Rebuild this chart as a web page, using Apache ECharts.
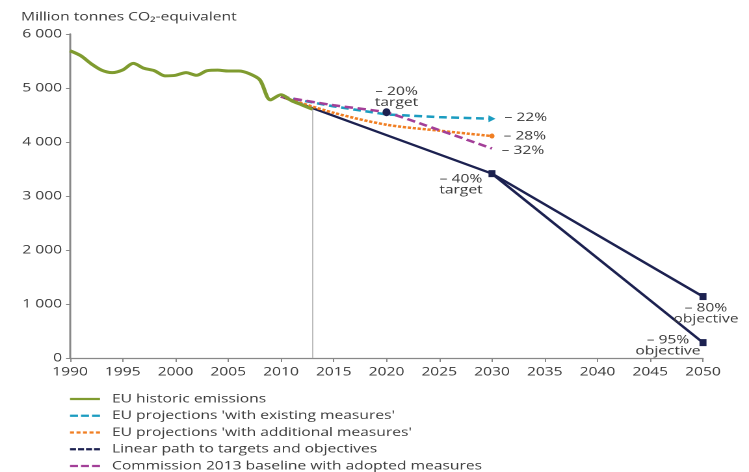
<!DOCTYPE html>
<html>
<head>
<meta charset="utf-8">
<script src="https://cdn.jsdelivr.net/npm/echarts@6/dist/echarts.min.js"></script>
<style>
html,body{margin:0;padding:0;background:#fff;overflow:hidden;width:749px;height:472px}
#c{width:576px;height:472px;transform:scaleX(1.3003);transform-origin:0 0}
</style>
</head>
<body>
<div id="c"></div>
<script>
// ---- data ----
const histYears = [1990,1991,1992,1993,1994,1995,1996,1997,1998,1999,2000,2001,2002,2003,2004,2005,2006,2007,2008,2009,2010,2011,2012,2013];
const histValues = [5690,5600,5450,5330,5285,5335,5455,5365,5320,5225,5235,5285,5235,5320,5330,5315,5315,5265,5150,4780,4875,4765,4685,4605];
const projYears = [2010,2015,2020,2025,2030];
const wemValues = [4840,4660,4510,4460,4430];
const wamValues = [4840,4540,4320,4210,4110];
const comValues = [4840,4680,4545,4220,3880];
const pathYears = [2010,2030,2050];
const path80Values = [4840,3414,1138];
const path95Years = [2030,2050];
const path95Values = [3414,285];
const cutoffYear = 2013;
const markerYears = [2020,2030,2050,2050];
const markerValues = [4552,3414,1138,285];
const markerTexts = ['– 20%\ntarget','– 40%\ntarget','– 80%\nobjective','– 95%\nobjective'];
const endTexts = ['– 22%','– 28%','– 32%'];
const xTicks = {min:1990,max:2050,step:5};
const yTicks = {min:0,max:6000,step:1000};
const names = ['EU historic emissions',"EU projections 'with existing measures'","EU projections 'with additional measures'",'Linear path to targets and objectives','Commission 2013 baseline with adopted measures'];

// ---- styling ----
const SX = 1.3003; // horizontal stretch applied to the whole chart via CSS
const FONT = "'Open Sans', 'Noto Sans', sans-serif";
const FS = 12;
const C = {green:'#7f9b2f', cyan:'#1b9cc0', orange:'#f07e22', navy:'#1c2150', magenta:'#a33f98', text:'#3a3a3a', axis:'#888'};
const pair = (xs, ys) => xs.map((x,i)=>[x, ys[i]]);
const fmt = v => String(v).replace(/\B(?=(\d{3})+(?!\d))/g, ' ');
const hx = v => v / SX;

const markerSymbols = ['circle','rect','rect','rect'];
const markerSizes = [[hx(8),8],[hx(7),7],[hx(7),7],[hx(7),7]];
const markerLabelOffsets = [[hx(10),-15],[hx(-31),11],[hx(3),17],[hx(-35),3]];
const endLabelOffsets = [[0,-1],[0,0],[0,2]];
const legendIcons = [
  'path://M0,0h30v3h-30z',
  'path://M0,0h8v3h-8zM11,0h8v3h-8zM22,0h8v3h-8z',
  'path://M0,0h4v3h-4zM6.5,0h4v3h-4zM13,0h4v3h-4zM19.5,0h4v3h-4zM26,0h4v3h-4z',
  'path://M0,0h6v3h-6zM8,0h6v3h-6zM16,0h6v3h-6zM24,0h6v3h-6z',
  'path://M0,0h8v3h-8zM11,0h8v3h-8zM22,0h8v3h-8z'
];

function endLabel(text, off){
  return {show:true, position:'right', formatter:text, color:C.text, fontSize:FS, fontFamily:FONT, offset:off, distance:hx(9)};
}

const chart = echarts.init(document.getElementById('c'), null, {renderer:'canvas', devicePixelRatio:2});
chart.setOption({
  animation:false,
  textStyle:{fontFamily:FONT},
  title:{text:'Million tonnes CO₂-equivalent', left:hx(21), top:11, padding:0, textStyle:{fontSize:FS, fontWeight:'normal', color:C.text, fontFamily:FONT}},
  grid:{left:hx(70), right:hx(46), top:34, bottom:114, containLabel:false},
  xAxis:{type:'value', min:xTicks.min, max:xTicks.max, interval:xTicks.step,
    axisLine:{lineStyle:{color:C.axis, width:1.2}}, axisTick:{show:true, length:4, lineStyle:{color:C.axis}},
    axisLabel:{color:C.text, fontSize:FS, fontFamily:FONT, margin:8, formatter:v=>String(v)}, splitLine:{show:false}},
  yAxis:{type:'value', min:yTicks.min, max:yTicks.max, interval:yTicks.step,
    axisLine:{show:true, lineStyle:{color:C.axis, width:1.5}}, axisTick:{show:true, length:hx(4), lineStyle:{color:C.axis}},
    axisLabel:{color:C.text, fontSize:FS, fontFamily:FONT, formatter:fmt, margin:hx(8)}, splitLine:{show:false}},
  legend:{orient:'vertical', left:hx(70), top:392, height:90, padding:0, itemWidth:hx(30), itemHeight:3, itemGap:2.75,
    textStyle:{color:C.text, fontSize:FS, lineHeight:14, fontFamily:FONT, padding:[0,0,0,hx(112-100)-5]},
    data:names.map((n,i)=>({name:n, icon:legendIcons[i]}))},
  series:[
    {name:names[0], type:'line', data:pair(histYears, histValues), symbol:'none', smooth:0.3, z:5,
      lineStyle:{color:C.green, width:3}, itemStyle:{color:C.green},
      markLine:{silent:true, symbol:'none', label:{show:false}, lineStyle:{color:'#bbb', width:1, type:'solid'},
        data:[[{coord:[cutoffYear, histValues[histValues.length-1]]},{coord:[cutoffYear, 0]}]]}},
    {name:names[3], type:'line', data:pair(pathYears, path80Values), symbol:'none', z:3,
      lineStyle:{color:C.navy, width:2.3}, itemStyle:{color:C.navy}},
    {name:names[3], type:'line', data:pair(path95Years, path95Values), symbol:'none', z:3,
      lineStyle:{color:C.navy, width:2.3}, itemStyle:{color:C.navy}},
    {name:names[1], type:'line', symbol:'none', z:4,
      data:pair(projYears, wemValues).map((p,i,a)=> i===a.length-1 ? {value:p, symbol:'triangle', symbolSize:[7,hx(7)], symbolRotate:-90, label:endLabel(endTexts[0], endLabelOffsets[0])} : p),
      lineStyle:{color:C.cyan, width:2.5, type:[6,3.5]}, itemStyle:{color:C.cyan}},
    {name:names[2], type:'line', symbol:'none', z:4, smooth:0.3,
      data:pair(projYears, wamValues).map((p,i,a)=> i===a.length-1 ? {value:p, symbol:'circle', symbolSize:[hx(5),5], label:endLabel(endTexts[1], endLabelOffsets[1])} : p),
      lineStyle:{color:C.orange, width:2.5, type:[2.5,1.3]}, itemStyle:{color:C.orange}},
    {name:names[4], type:'line', symbol:'none', z:4, smooth:0.2,
      data:pair(projYears, comValues).map((p,i,a)=> i===a.length-1 ? {value:p, symbol:'circle', symbolSize:1, itemStyle:{color:'rgba(0,0,0,0)'}, label:endLabel(endTexts[2], endLabelOffsets[2])} : p),
      lineStyle:{color:C.magenta, width:2.5, type:[6.5,3.5]}, itemStyle:{color:C.magenta}},
    {name:'targets', type:'scatter', z:6,
      data:pair(markerYears, markerValues).map((p,i)=>({value:p, symbol:markerSymbols[i], symbolSize:markerSizes[i],
        label:{show:true, position:'inside', offset:markerLabelOffsets[i], formatter:markerTexts[i], color:C.text, fontSize:FS, lineHeight:11, fontFamily:FONT}})),
      itemStyle:{color:C.navy, opacity:1}}
  ]
});
</script>
</body>
</html>
